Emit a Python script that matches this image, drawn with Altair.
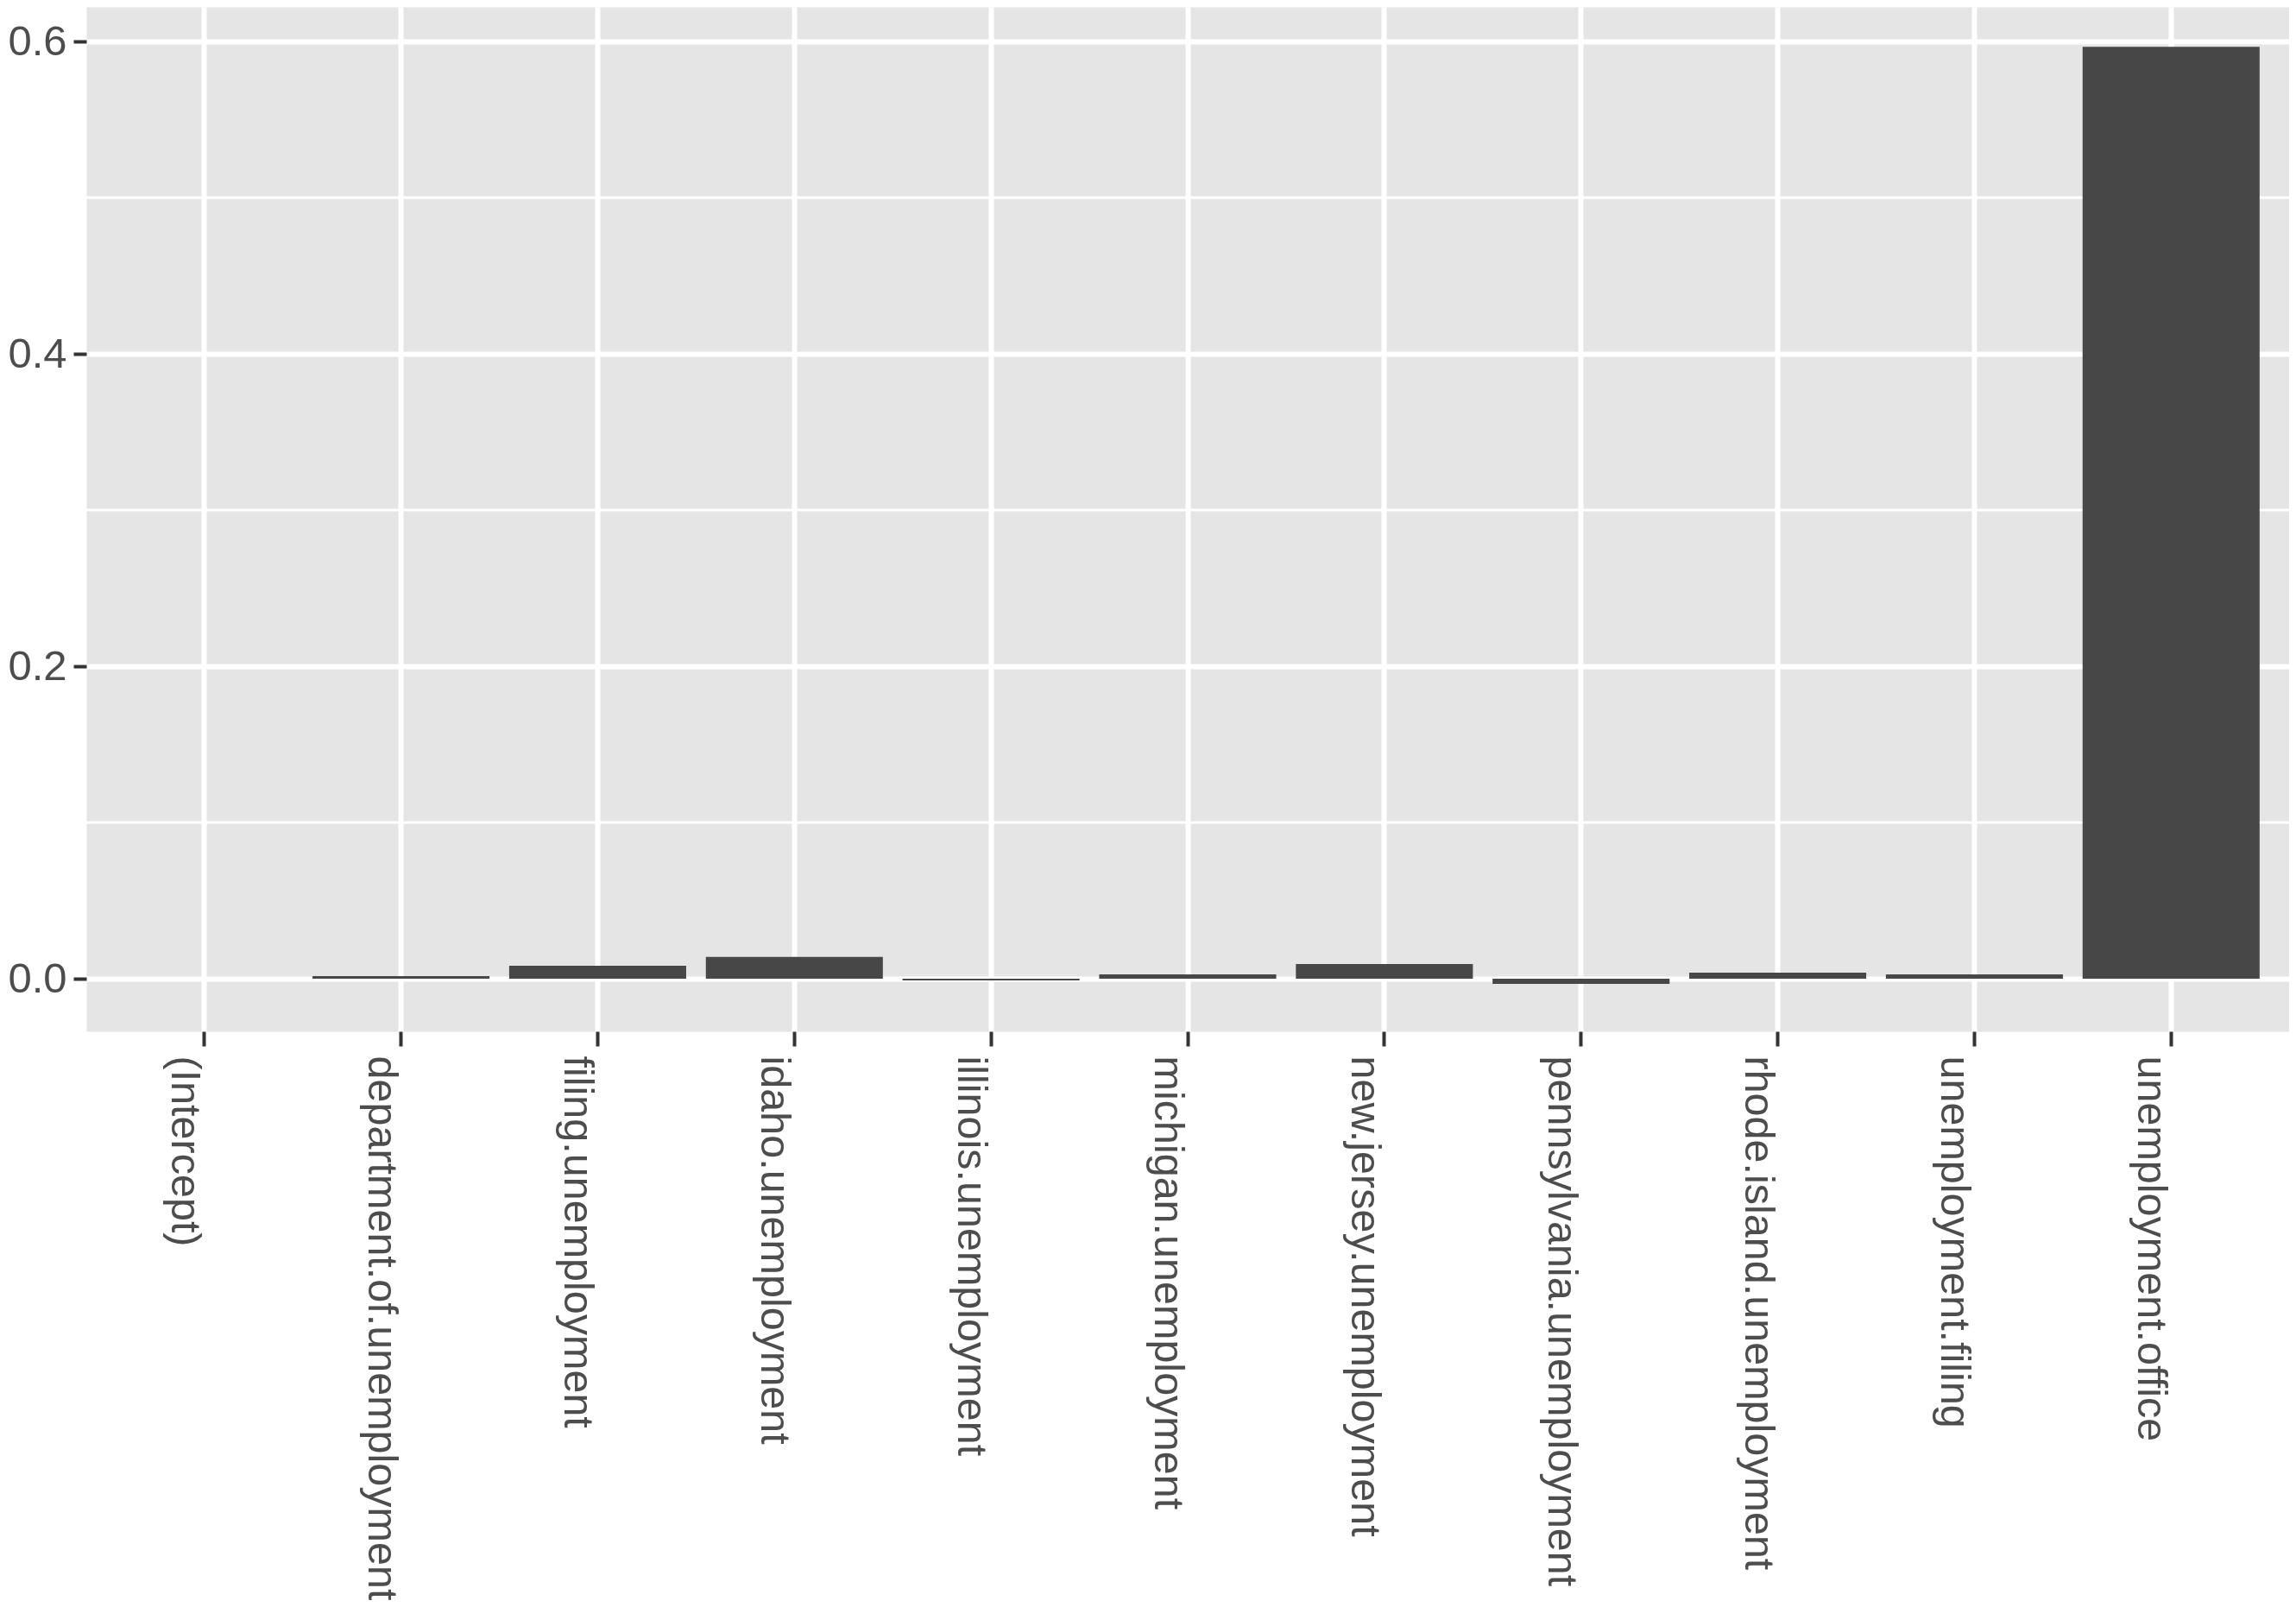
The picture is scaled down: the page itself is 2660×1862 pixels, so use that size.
import altair as alt
import pandas as pd

terms = [
    "(Intercept)",
    "department.of.unemployment",
    "filing.unemployment",
    "idaho.unemployment",
    "illinois.unemployment",
    "michigan.unemployment",
    "new.jersey.unemployment",
    "pennsylvania.unemployment",
    "rhode.island.unemployment",
    "unemployment.filing",
    "unemployment.office",
]
coefs = [0.0, 0.0017, 0.0083, 0.0139, -0.0011, 0.0028, 0.0094, -0.0033, 0.0039, 0.0028, 0.5965]
major_ticks = [0.0, 0.2, 0.4, 0.6]
minor_ticks = [0.1, 0.3, 0.5]

df = pd.DataFrame({"term": terms, "coef": coefs})
minor_df = pd.DataFrame({"coef": minor_ticks})

FONT = "Liberation Sans"
yscale = alt.Scale(domain=[-0.0337, 0.6221], nice=False, zero=False)

yaxis = alt.Axis(
    title=None,
    values=major_ticks,
    format=".1f",
    labelFontSize=49,
    labelFont=FONT,
    labelColor="#4D4D4D",
    labelPadding=8,
    tickSize=15,
    tickWidth=4,
    tickColor="#333333",
    domain=False,
    grid=True,
    gridColor="white",
    gridWidth=6,
)

minor = alt.Chart(minor_df).mark_rule(color="white", strokeWidth=3).encode(
    y=alt.Y("coef:Q", scale=yscale, axis=yaxis)
)

bars = alt.Chart(df).mark_bar(color="#474747").encode(
    x=alt.X(
        "term:N",
        sort=terms,
        scale=alt.Scale(paddingInner=0.1, paddingOuter=0.15),
        axis=alt.Axis(
            title=None,
            labelAngle=90,
            labelAlign="left",
            labelBaseline="top",
            labelFontSize=48.5,
            labelFont=FONT,
            labelColor="#4D4D4D",
            labelLimit=3000,
            labelPadding=11,
            tickSize=17,
            tickWidth=4,
            tickColor="#333333",
            domain=False,
            grid=True,
            gridColor="white",
            gridWidth=6,
        ),
    ),
    y=alt.Y("coef:Q", scale=yscale, axis=yaxis),
    y2=alt.datum(0),
)

chart = (
    alt.layer(minor, bars)
    .properties(
        width=2552,
        height=1187,
        autosize=alt.AutoSizeParams(type="none"),
        padding={"left": 92, "top": 0, "right": 0, "bottom": 659},
        background="white",
    )
    .configure_view(fill="#E5E5E5", stroke="transparent")
)

chart.save("out.html", embed_options={"renderer": "svg", "actions": False})
